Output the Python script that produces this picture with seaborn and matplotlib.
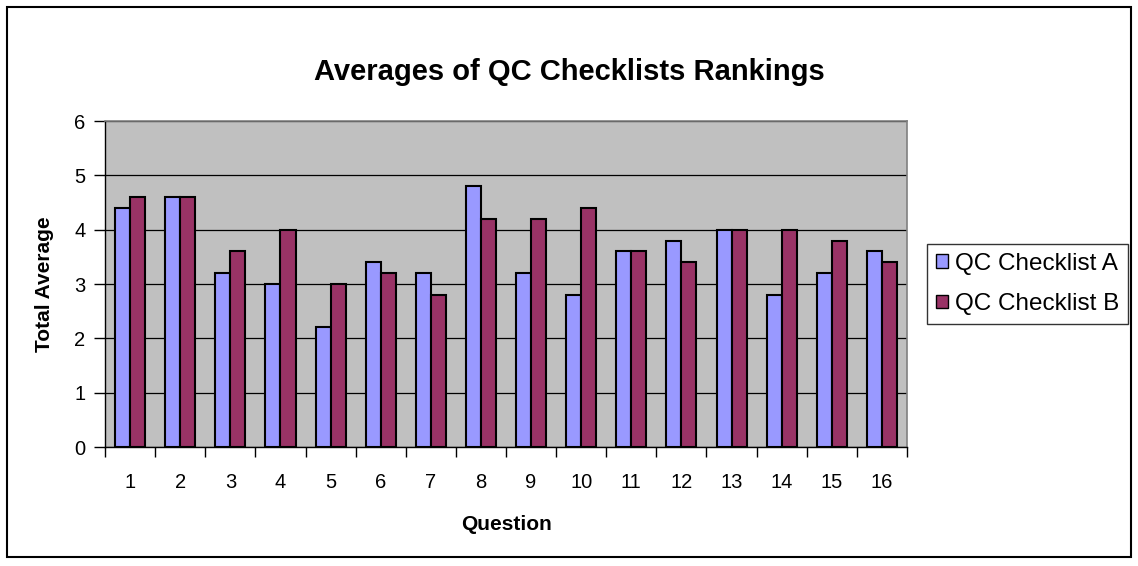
import pandas as pd
import matplotlib
matplotlib.use("Agg")
import matplotlib.pyplot as plt
from matplotlib.patches import Rectangle
from matplotlib.ticker import FixedLocator
import seaborn as sns

# data
questions = [str(i) for i in range(1, 17)]
checklist_a = [4.4, 4.6, 3.2, 3.0, 2.2, 3.4, 3.2, 4.8, 3.2, 2.8, 3.6, 3.8, 4.0, 2.8, 3.2, 3.6]
checklist_b = [4.6, 4.6, 3.6, 4.0, 3.0, 3.2, 2.8, 4.2, 4.2, 4.4, 3.6, 3.4, 4.0, 4.0, 3.8, 3.4]
series_names = ["QC Checklist A", "QC Checklist B"]

df = pd.DataFrame({
    "Question": questions * 2,
    "Total Average": checklist_a + checklist_b,
    "Series": [series_names[0]] * 16 + [series_names[1]] * 16,
})

sns.set_style("white")
plt.rcParams["font.family"] = ["Liberation Sans", "DejaVu Sans"]
plt.rcParams["text.color"] = "black"
plt.rcParams["axes.labelcolor"] = "black"
plt.rcParams["xtick.color"] = "black"
plt.rcParams["ytick.color"] = "black"

fig = plt.figure(figsize=(11.38, 5.66), dpi=100)
ax = fig.add_axes([0.0923, 0.2102, 0.7047, 0.576])

sns.barplot(
    data=df, x="Question", y="Total Average", hue="Series",
    palette=["#9999FF", "#993366"], width=0.6, gap=0,
    edgecolor="black", linewidth=1.5, ax=ax, saturation=1,
)

ax.set_facecolor("#C0C0C0")
ax.set_ylim(0, 6)
ax.set_xlim(-0.5, 15.5)
ax.set_yticks(range(0, 7))
ax.yaxis.grid(True, color="black", linewidth=0.9)
ax.set_axisbelow(True)

for side in ["top", "right"]:
    ax.spines[side].set_color("#808080")
    ax.spines[side].set_linewidth(1.2)
for side in ["left", "bottom"]:
    ax.spines[side].set_color("black")
    ax.spines[side].set_linewidth(1)

ax.tick_params(axis="x", which="major", length=0, pad=19, labelsize=14.5)
ax.xaxis.set_minor_locator(FixedLocator([i - 0.5 for i in range(17)]))
ax.tick_params(axis="x", which="minor", length=7, width=1, color="black", direction="out", bottom=True)
ax.tick_params(axis="y", length=8, width=1, color="black", direction="out", left=True, labelsize=14.5, pad=6)

ax.set_xlabel("Question", fontsize=15, fontweight="bold", labelpad=16)
ax.set_ylabel("Total Average", fontsize=15, fontweight="bold", labelpad=15)
fig.text(0.5, 0.873, "Averages of QC Checklists Rankings", ha="center", va="center",
         fontsize=21, fontweight="bold")

leg = ax.legend(loc="center left", bbox_to_anchor=(1.025, 0.5), frameon=True, fancybox=False,
                fontsize=17.5, handlelength=0.5, handleheight=0.5, handletextpad=0.3,
                borderpad=0.35, labelspacing=0.75, borderaxespad=0)
leg.get_frame().set_edgecolor("black")
leg.get_frame().set_linewidth(1)
for h in leg.legend_handles:
    h.set_edgecolor("black")
    h.set_linewidth(1)

# outer chart border
fig.patches.append(Rectangle((0.006, 0.016), 0.988, 0.972, transform=fig.transFigure,
                             fill=False, edgecolor="black", linewidth=1.5))

fig.savefig("out.png", dpi=100)
